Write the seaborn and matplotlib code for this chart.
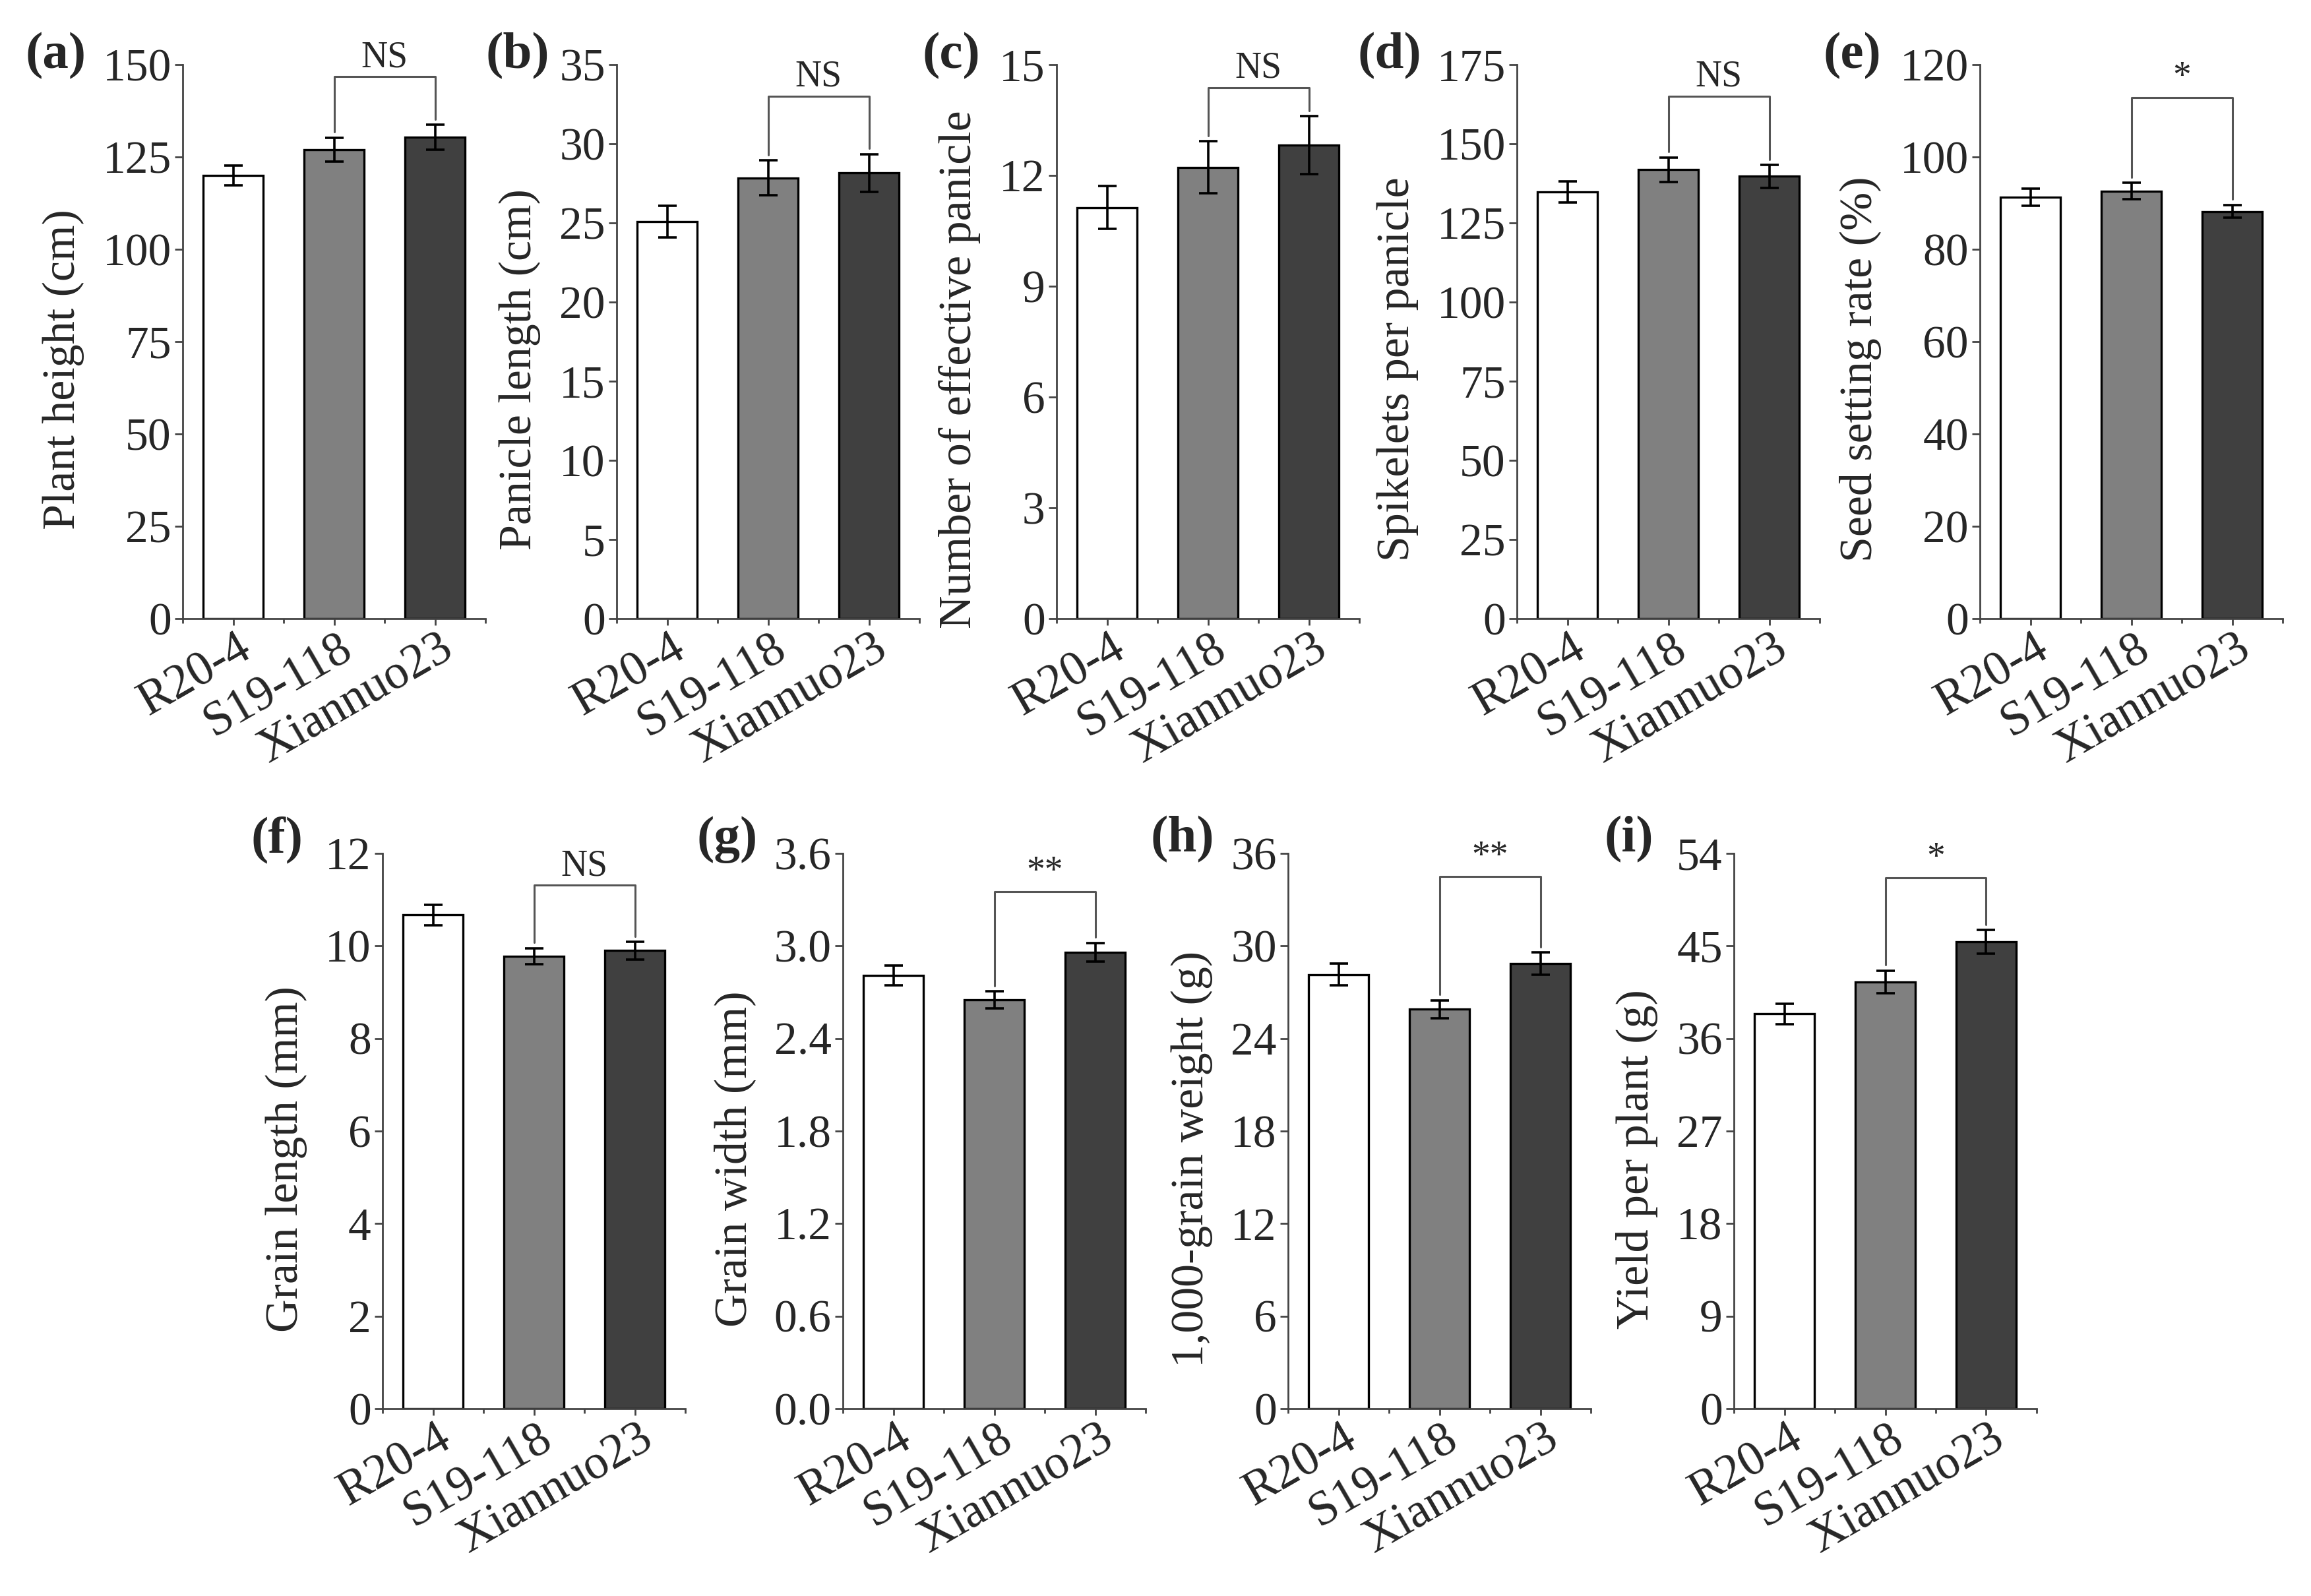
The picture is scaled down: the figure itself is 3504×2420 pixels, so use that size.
import seaborn as sns
import matplotlib.pyplot as plt
import matplotlib.transforms as mtransforms
import numpy as np
from matplotlib.ticker import FormatStrFormatter

# rice lines compared in every panel
lines = ['R20-4', 'S19-118', 'Xiannuo23']
bar_colors = ['#ffffff', '#808080', '#404040']

# means and error bars
plant_height = [120.0, 127.0, 130.3]
plant_height_err = [2.6, 3.2, 3.4]
panicle_length = [25.1, 27.85, 28.15]
panicle_length_err = [1.0, 1.1, 1.2]
effective_panicle = [11.13, 12.22, 12.82]
effective_panicle_err = [0.58, 0.70, 0.78]
spikelets = [134.8, 141.8, 139.7]
spikelets_err = [3.3, 3.9, 3.6]
seed_setting = [91.3, 92.6, 88.2]
seed_setting_err = [1.8, 1.8, 1.4]
grain_length = [10.67, 9.78, 9.90]
grain_length_err = [0.22, 0.17, 0.19]
grain_width = [2.81, 2.65, 2.96]
grain_width_err = [0.065, 0.055, 0.06]
grain_weight = [28.15, 25.9, 28.85]
grain_weight_err = [0.70, 0.58, 0.73]
yield_plant = [38.4, 41.5, 45.4]
yield_plant_err = [1.0, 1.1, 1.15]

# significance between S19-118 and Xiannuo23
signif = ['NS', 'NS', 'NS', 'NS', '*', 'NS', '**', '**', '*']
bracket_top = [146.7, 33.0, 14.37, 165, 112.9, 11.31, 3.35, 34.5, 51.6]

panels = [
    ('(a)', 'Plant height (cm)', plant_height, plant_height_err, 150, 25, '%d'),
    ('(b)', 'Panicle length (cm)', panicle_length, panicle_length_err, 35, 5, '%d'),
    ('(c)', 'Number of effective panicle', effective_panicle, effective_panicle_err, 15, 3, '%d'),
    ('(d)', 'Spikelets per panicle', spikelets, spikelets_err, 175, 25, '%d'),
    ('(e)', 'Seed setting rate (%)', seed_setting, seed_setting_err, 120, 20, '%d'),
    ('(f)', 'Grain length (mm)', grain_length, grain_length_err, 12, 2, '%d'),
    ('(g)', 'Grain width (mm)', grain_width, grain_width_err, 3.6, 0.6, '%.1f'),
    ('(h)', '1,000-grain weight (g)', grain_weight, grain_weight_err, 36, 6, '%d'),
    ('(i)', 'Yield per plant (g)', yield_plant, yield_plant_err, 54, 9, '%d'),
]

# layout in pixels of the 3504x2420 canvas
W, H = 3504, 2420
axes_left = [277, 935, 1602, 2300, 3002, 580, 1278, 1953, 2629]
axes_top = [98] * 5 + [1294] * 4
axes_h = [840] * 5 + [842] * 4
axes_w = 459
label_x = [38, 737, 1398, 2058, 2765, 380, 1056, 1745, 2433]
label_y = [85] * 5 + [1273] * 4

sns.set_style('ticks')
plt.rcParams['font.family'] = ['Liberation Serif', 'DejaVu Serif']
plt.rcParams['axes.linewidth'] = 1.0

fig = plt.figure(figsize=(W / 200, H / 200), dpi=200)
spine_col = '#444444'
shift = mtransforms.ScaledTranslation(2 / 72, 0, fig.dpi_scale_trans)

for k, (tag, ylab, vals, errs, ymax, step, fmt) in enumerate(panels):
    ax = fig.add_axes([axes_left[k] / W, 1 - (axes_top[k] + axes_h[k]) / H,
                       axes_w / W, axes_h[k] / H])
    sns.barplot(x=lines, y=vals, hue=lines, palette=bar_colors, legend=False,
                errorbar=None, width=0.6, edgecolor='black', linewidth=1.2, ax=ax)
    ax.errorbar(range(3), vals, yerr=errs, fmt='none', ecolor='black',
                elinewidth=1.3, capsize=5, capthick=1.3)

    # bracket between S19-118 and Xiannuo23
    top = bracket_top[k]
    gap = 0.01 * ymax
    ax.plot([1, 1, 2, 2], [vals[1] + errs[1] + gap, top, top, vals[2] + errs[2] + gap],
            color='#555555', lw=1.1, clip_on=False)
    ax.text(1.5, top + 0.004 * ymax, signif[k], ha='center', va='bottom', fontsize=20)

    ax.set_xlim(-0.5, 2.5)
    ax.set_ylim(0, ymax)
    ax.set_yticks(np.arange(0, ymax + step / 2, step))
    ax.yaxis.set_major_formatter(FormatStrFormatter(fmt))
    ax.set_xticks([-0.5, 0.5, 1.5, 2.5], minor=True)
    sns.despine(ax=ax)
    for s in ['left', 'bottom']:
        ax.spines[s].set_color(spine_col)
    ax.tick_params(axis='y', which='major', length=4.2, width=1, color=spine_col,
                   labelsize=25, pad=2)
    ax.tick_params(axis='x', which='major', length=3.6, width=1, color=spine_col,
                   labelsize=26.5, pad=0.5)
    ax.tick_params(axis='x', which='minor', direction='out', length=2.5, width=1,
                   color=spine_col)
    for lab in ax.get_xticklabels():
        lab.set_rotation(30)
        lab.set_ha('right')
        lab.set_va('top')
        lab.set_rotation_mode('anchor')
        lab.set_transform(lab.get_transform() + shift)
    ax.set_xlabel('')
    ax.set_ylabel(ylab, fontsize=25.2, labelpad=10, y=0.45)

    fig.text(label_x[k] / W, 1 - label_y[k] / H, tag, fontsize=28.5, fontweight='bold',
             ha='left', va='center')

fig.savefig('out.png', dpi=200)
